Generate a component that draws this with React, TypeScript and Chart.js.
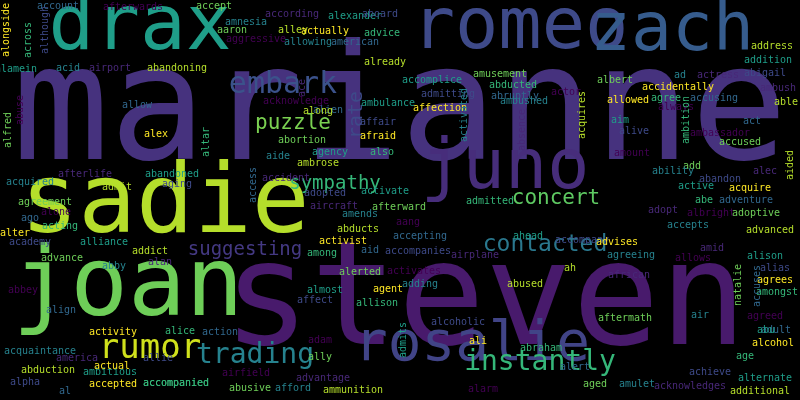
import { useEffect, useRef } from 'react';
import { Chart, registerables } from 'chart.js';

Chart.register(...registerables);

// word cloud: word, centre x/y in the 800x400 layout, font size (weight)
const words = [
  'marianne', 'steven', 'joan', 'sadie', 'romeo', 'zach', 'drax', 'juno', 'rosalie',
  'embark', 'rumor', 'trading', 'instantly', 'contacted', 'puzzle', 'sympathy', 'concert', 'suggesting', 'rate',
  'account', 'afterwards', 'accept', 'amnesia', 'according', 'alley', 'alexander', 'aboard', 'actually', 'advice',
  'american', 'aggressive', 'aaron', 'allowing', 'ace', 'already', 'accomplice', 'admitting', 'affection', 'abducted',
  'abruptly', 'actor', 'albert', 'ad', 'actress', 'address', 'addition', 'abigail', 'accidentally', 'agree',
  'accusing', 'always', 'amusement', 'ambushed', 'ambush', 'able', 'aim', 'alive', 'allowed', 'ambition',
  'act', 'ambassador', 'accused', 'activated', 'absence', 'acquires', 'ambulance', 'affair', 'afraid', 'also',
  'alien', 'acknowledge', 'abortion', 'aide', 'accident', 'ambrose', 'agency', 'adopted', 'alex', 'altar',
  'allow', 'abuse', 'alfred', 'acid', 'airport', 'abandoning', 'alamein', 'although', 'alongside', 'across',
  'access', 'amount', 'add', 'ability', 'alec', 'aided', 'active', 'abandon', 'acquire', 'abe',
  'adventure', 'albright', 'adoptive', 'accepts', 'adopt', 'advanced', 'alison', 'alias', 'agrees', 'amongst',
  'accuses', 'allows', 'natalie', 'agreeing', 'african', 'ah', 'ahead', 'accompany', 'advises', 'admitted',
  'accepting', 'aang', 'afterward', 'amends', 'aircraft', 'abducts', 'activate', 'accompanies', 'activist', 'among',
  'aid', 'activates', 'alerted', 'adding', 'airplane', 'abused', 'almost', 'affect', 'agent', 'allison',
  'align', 'abbey', 'advance', 'abby', 'alan', 'addict', 'alliance', 'academy', 'alter', 'acting',
  'ago', 'alone', 'agreement', 'acquired', 'afterlife', 'admit', 'abandoned', 'aging', 'activity', 'alice',
  'action', 'adam', 'ally', 'acquaintance', 'america', 'abduction', 'ambitious', 'alpha', 'accepted', 'accompanied',
  'al', 'airfield', 'abusive', 'afford', 'advantage', 'ammunition', 'admits', 'alcoholic', 'ali', 'abraham',
  'alert', 'alarm', 'aged', 'amulet', 'acknowledges', 'additional', 'alternate', 'achieve', 'alcohol', 'age',
  'adult', 'agreed', 'aftermath', 'air', 'amid', 'along', 'abu', 'allie', 'actual', 'accompanied',
];
const posX = [
  400, 485, 128, 165, 520, 672, 140, 505, 472,
  283, 150, 255, 540, 545, 293, 335, 556, 245, 358,
  58, 133, 214, 246, 292, 293, 355, 380, 325, 382,
  355, 256, 232, 308, 302, 385, 432, 448, 440, 513,
  515, 566, 615, 680, 718, 772, 768, 765, 678, 666,
  714, 676, 500, 524, 778, 786, 620, 634, 628, 686,
  752, 720, 740, 464, 522, 582, 388, 378, 378, 382,
  328, 296, 302, 278, 286, 318, 330, 325, 156, 206,
  137, 20, 8, 68, 110, 177, 16, 45, 6, 28,
  253, 632, 692, 673, 765, 790, 696, 720, 750, 704,
  746, 711, 756, 688, 663, 770, 765, 775, 775, 777,
  757, 693, 738, 631, 629, 570, 528, 582, 617, 490,
  420, 408, 399, 360, 334, 358, 385, 418, 343, 322,
  370, 414, 360, 420, 475, 525, 325, 315, 388, 377,
  61, 23, 62, 114, 160, 150, 104, 30, 15, 60,
  30, 56, 45, 30, 85, 117, 172, 177, 113, 180,
  220, 320, 320, 40, 77, 48, 110, 25, 113, 176,
  65, 246, 250, 293, 323, 353, 403, 458, 478, 541,
  575, 483, 595, 637, 690, 760, 765, 710, 773, 745,
  776, 765, 625, 700, 712, 318, 766, 158, 112, 176,
];
const posY = [
  130, 318, 298, 215, 35, 38, 35, 175, 350,
  88, 352, 358, 365, 247, 125, 186, 200, 252, 115,
  6, 7, 6, 22, 14, 30, 16, 14, 31, 33,
  42, 39, 30, 42, 88, 62, 80, 94, 108, 85,
  96, 92, 80, 75, 75, 46, 60, 73, 87, 98,
  98, 107, 74, 101, 88, 102, 120, 131, 100, 120,
  121, 133, 142, 115, 130, 115, 103, 122, 136, 152,
  110, 101, 140, 156, 178, 163, 152, 193, 134, 142,
  105, 110, 130, 68, 68, 68, 69, 30, 30, 40,
  185, 153, 166, 171, 171, 165, 186, 179, 188, 200,
  200, 213, 213, 225, 210, 230, 256, 268, 280, 292,
  286, 258, 285, 255, 275, 268, 236, 240, 242, 201,
  236, 222, 207, 214, 206, 229, 191, 251, 241, 253,
  250, 271, 272, 284, 255, 284, 290, 300, 289, 303,
  310, 290, 258, 266, 262, 251, 242, 242, 233, 226,
  218, 212, 202, 182, 174, 187, 174, 184, 332, 331,
  332, 340, 357, 351, 358, 370, 372, 382, 384, 383,
  391, 373, 388, 388, 378, 390, 340, 322, 341, 348,
  367, 389, 384, 384, 386, 391, 378, 372, 343, 356,
  330, 316, 318, 315, 248, 111, 330, 358, 366, 383,
];
const weight = [
  161, 145, 96, 96, 72, 68, 76, 70, 56,
  30, 34, 28, 28, 23, 21, 19, 21, 19, 20,
  ...Array(181).fill(10),
];
const vertical = [
  'rate', 'ace', 'ambition', 'activated', 'absence', 'acquires', 'altar', 'abuse', 'alfred', 'although',
  'alongside', 'across', 'access', 'aided', 'accuses', 'natalie', 'admits',
];

const viridis = ['#440154', '#482878', '#3e4a89', '#31688e', '#26828e', '#1f9e89', '#35b779', '#6ece58', '#b5de2b', '#fde725'];
const bigColors: Record<string, string> = {
  marianne: '#46327e', steven: '#481a6c', joan: '#6ece58', sadie: '#b5de2b', romeo: '#3e4a89',
  zach: '#365c8d', drax: '#1f9e89', juno: '#472d7b', rosalie: '#414487', embark: '#3b528b',
  rumor: '#d0e11c', trading: '#26828e', instantly: '#35b779', contacted: '#2a788e', puzzle: '#7ad151',
  sympathy: '#35b779', concert: '#5ec962', suggesting: '#443983', rate: '#3e4a89',
};

const wordPlugin = {
  id: 'wordText',
  beforeDraw(chart: Chart) {
    const { ctx, width, height } = chart;
    ctx.save();
    ctx.fillStyle = '#000';
    ctx.fillRect(0, 0, width, height);
    ctx.restore();
  },
  afterDatasetsDraw(chart: Chart) {
    const { ctx } = chart;
    const meta = chart.getDatasetMeta(0);
    meta.data.forEach((pt, i) => {
      const w = words[i];
      const size = weight[i];
      ctx.save();
      ctx.translate(pt.x, pt.y);
      if (vertical.includes(w)) ctx.rotate(-Math.PI / 2);
      ctx.font = `${size}px "DejaVu Sans Mono"`;
      ctx.fillStyle = bigColors[w] ?? viridis[(i * 7) % viridis.length];
      ctx.textAlign = 'center';
      ctx.textBaseline = 'middle';
      // lowercase words sit below the em middle, lift them a little
      ctx.fillText(w, 0, size > 15 ? -size * 0.08 : 0);
      ctx.restore();
    });
  },
};

export default function App() {
  const canvasRef = useRef<HTMLCanvasElement>(null);

  useEffect(() => {
    document.body.style.margin = '0';
    if (!canvasRef.current) return;
    const chart = new Chart(canvasRef.current, {
      type: 'scatter',
      data: {
        datasets: [{
          data: words.map((_, i) => ({ x: posX[i], y: posY[i] })),
          pointRadius: 0,
        }],
      },
      options: {
        responsive: false,
        animation: false,
        layout: { padding: 0 },
        plugins: { legend: { display: false }, tooltip: { enabled: false } },
        scales: {
          x: { type: 'linear', min: 0, max: 800, display: false },
          y: { type: 'linear', min: 0, max: 400, reverse: true, display: false },
        },
      },
      plugins: [wordPlugin],
    });
    return () => chart.destroy();
  }, []);

  return (
    <div style={{ width: 800, height: 400 }}>
      <canvas ref={canvasRef} width={800} height={400}></canvas>
    </div>
  );
}
